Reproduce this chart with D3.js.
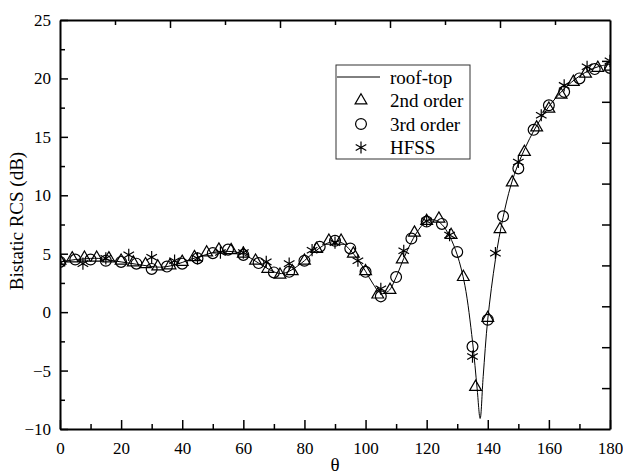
<!DOCTYPE html>
<html>
<head>
<meta charset="utf-8">
<script src="https://cdn.jsdelivr.net/npm/d3@7"></script>
<style>
  body { margin: 0; background: #fff; }
  svg text { font-family: "Liberation Serif", "Times New Roman", serif; fill: #000; }
</style>
</head>
<body>
<svg id="chart" width="623" height="474"></svg>
<script>
// roof-top (solid line)
var roofTheta = [0, 2.5, 5, 7.5, 10, 12.5, 15, 17.5, 20, 22.5, 25, 27.5, 30, 32.5, 35, 37.5, 40, 42.5, 45, 47.5,
  50, 52.5, 55, 57.5, 60, 62.5, 65, 67.5, 70, 72.5, 75, 77.5, 80, 82.5, 85, 87.5, 90, 92.5, 95, 97.5,
  100, 102.5, 105, 107.5, 110, 112.5, 115, 117.5, 120, 122.5, 125, 127.5, 130, 132.5, 135, 136.5, 137.5, 138.5,
  140, 142.5, 145, 147.5, 150, 152.5, 155, 157.5, 160, 162.5, 165, 167.5, 170, 172.5, 175, 177.5, 180];
var roofRcs = [4.3, 4.4, 4.5, 4.55, 4.6, 4.6, 4.5, 4.4, 4.3, 4.2, 4.1, 4.0, 3.9, 3.85, 3.9, 4.05, 4.25, 4.5, 4.7, 4.9,
  5.1, 5.2, 5.2, 5.15, 4.95, 4.6, 4.2, 3.8, 3.45, 3.3, 3.5, 3.9, 4.4, 5.0, 5.5, 5.9, 6.05, 5.9, 5.3, 4.5,
  3.5, 2.4, 1.6, 1.8, 3.0, 4.6, 6.0, 7.1, 7.8, 7.9, 7.5, 6.5, 4.9, 2.3, -2.5, -6.5, -9.1, -5.5,
  -0.6, 4.5, 8.1, 10.8, 12.7, 14.2, 15.5, 16.6, 17.6, 18.4, 19.1, 19.7, 20.2, 20.6, 20.9, 21.1, 21.2];

// 2nd order (triangles), every 4 deg
var secondTheta = d3.range(0, 181, 4);
var secondRcs = [4.4, 4.6, 4.65, 4.65, 4.6, 4.4, 4.25, 4.1, 3.9, 4.0, 4.3, 4.7, 5.1, 5.35, 5.3, 5.0, 4.4, 3.7, 3.2, 3.5,
  4.4, 5.4, 6.1, 6.1, 5.0, 3.5, 1.5, 1.9, 4.5, 6.8, 7.8, 8.0, 6.6, 3.0, -6.4, -0.5, 7.1, 11.1, 13.7, 15.8,
  17.4, 18.6, 19.7, 20.4, 20.9, 21.0];

// 3rd order (circles), every 5 deg
var thirdTheta = d3.range(0, 181, 5);
var thirdRcs = [4.3, 4.5, 4.5, 4.4, 4.3, 4.15, 3.7, 3.9, 4.15, 4.6, 5.05, 5.35, 4.9, 4.2, 3.4, 3.45, 4.4, 5.6, 6.1, 5.45,
  3.45, 1.35, 3.0, 6.3, 7.75, 7.55, 5.15, -2.95, -0.65, 8.2, 12.3, 15.6, 17.7, 18.85, 20.0, 20.8, 20.9];

// HFSS (asterisks), every 7.5 deg
var hfssTheta = d3.range(0, 181, 7.5);
var hfssRcs = [4.2, 4.15, 4.6, 4.9, 4.7, 4.4, 4.6, 5.1, 5.1, 4.3, 4.15, 5.3, 5.95, 4.4, 2.0, 5.25, 7.8, 6.6, -3.8, 5.05,
  12.85, 16.85, 19.4, 21.0, 21.5];

var legendLabels = ["roof-top", "2nd order", "3rd order", "HFSS"];

var svg = d3.select("#chart"),
    margin = {top: 20, right: 13, bottom: 45, left: 60},
    width = +svg.attr("width"),
    height = +svg.attr("height");

var x = d3.scaleLinear().domain([0, 180]).range([margin.left, width - margin.right]);
var y = d3.scaleLinear().domain([-10, 25]).range([height - margin.bottom, margin.top]);

function zip(xs, ys) {
  return xs.map(function(t, i) { return {t: t, v: ys[i]}; });
}

svg.append("clipPath").attr("id", "plotclip")
  .append("rect")
    .attr("x", x(0)).attr("y", y(25))
    .attr("width", x(180) - x(0)).attr("height", y(-10) - y(25));

var plot = svg.append("g").attr("clip-path", "url(#plotclip)");

// solid line
var line = d3.line()
    .x(function(d) { return x(d.t); })
    .y(function(d) { return y(d.v); })
    .curve(d3.curveCatmullRom);

plot.append("path")
    .datum(zip(roofTheta, roofRcs))
    .attr("fill", "none")
    .attr("stroke", "#000")
    .attr("stroke-width", 1)
    .attr("d", line);

var triSym = d3.symbol().type(d3.symbolTriangle).size(60);
var cirSym = d3.symbol().type(d3.symbolCircle).size(92);
var astSym = d3.symbol().type(d3.symbolAsterisk).size(105);

function drawMarkers(data, sym) {
  plot.append("g")
    .selectAll("path")
    .data(data)
    .enter().append("path")
      .attr("transform", function(d) { return "translate(" + x(d.t) + "," + y(d.v) + ")"; })
      .attr("d", sym)
      .attr("fill", "none")
      .attr("stroke", "#000")
      .attr("stroke-width", 1.2);
}

drawMarkers(zip(secondTheta, secondRcs), triSym);
drawMarkers(zip(thirdTheta, thirdRcs), cirSym);
drawMarkers(zip(hfssTheta, hfssRcs), astSym);

// axes
function styleAxis(g) {
  g.select(".domain").attr("stroke-width", 2);
  g.selectAll(".tick line").attr("stroke-width", 1.5);
  g.selectAll(".tick text").style("font-size", "17px").style("font-family", "Liberation Serif");
}

var xMajor = d3.range(0, 181, 20), xMinor = d3.range(10, 180, 20);
var yMajor = d3.range(-10, 26, 5), yMinor = d3.range(-7.5, 25, 5);

// bottom
svg.append("g")
    .attr("transform", "translate(0," + y(-10) + ")")
    .call(d3.axisBottom(x).tickValues(xMinor).tickSize(-5).tickFormat(""))
    .call(function(g) { g.select(".domain").remove(); g.selectAll("line").attr("stroke-width", 1.5); });
svg.append("g")
    .attr("transform", "translate(0," + y(-10) + ")")
    .call(d3.axisBottom(x).tickValues(xMajor).tickSizeInner(-9).tickSizeOuter(0).tickPadding(13))
    .call(styleAxis);

// left
svg.append("g")
    .attr("transform", "translate(" + x(0) + ",0)")
    .call(d3.axisLeft(y).tickValues(yMinor).tickSize(-5).tickFormat(""))
    .call(function(g) { g.select(".domain").remove(); g.selectAll("line").attr("stroke-width", 1.5); });
svg.append("g")
    .attr("transform", "translate(" + x(0) + ",0)")
    .call(d3.axisLeft(y).tickValues(yMajor).tickSizeInner(-8).tickSizeOuter(0).tickPadding(9))
    .call(styleAxis);

// top: no labels, major every 36, minor every 18
svg.append("g")
    .attr("transform", "translate(0," + y(25) + ")")
    .call(d3.axisTop(x).tickValues(d3.range(18, 180, 36)).tickSize(-5).tickFormat(""))
    .call(function(g) { g.select(".domain").remove(); g.selectAll("line").attr("stroke-width", 1.5); });
svg.append("g")
    .attr("transform", "translate(0," + y(25) + ")")
    .call(d3.axisTop(x).tickValues(d3.range(36, 180, 36)).tickSizeInner(-8).tickSizeOuter(0).tickFormat(""))
    .call(styleAxis);

// right: no labels, every 3.5
svg.append("g")
    .attr("transform", "translate(" + x(180) + ",0)")
    .call(d3.axisRight(y).tickValues(d3.range(-6.5, 25, 3.5)).tickSizeInner(-8).tickSizeOuter(0).tickFormat(""))
    .call(styleAxis);

// axis titles
svg.append("text")
    .attr("x", (x(0) + x(180)) / 2)
    .attr("y", 471)
    .attr("text-anchor", "middle")
    .style("font-size", "19px")
    .text("\u03b8");

svg.append("text")
    .attr("transform", "translate(23," + 221 + ") rotate(-90)")
    .attr("text-anchor", "middle")
    .style("font-size", "19px")
    .text("Bistatic RCS (dB)");

// legend
var lg = svg.append("g").attr("transform", "translate(336,65)");
lg.append("rect")
    .attr("width", 134).attr("height", 94)
    .attr("fill", "#fff")
    .attr("stroke", "#333")
    .attr("stroke-width", 1);

var legendSyms = [null, triSym, cirSym, astSym];
legendLabels.forEach(function(label, i) {
  var ly = 12 + i * 23.5;
  if (i === 0) {
    lg.append("line")
        .attr("x1", 1).attr("x2", 44)
        .attr("y1", ly).attr("y2", ly)
        .attr("stroke", "#000").attr("stroke-width", 1);
  } else {
    lg.append("path")
        .attr("transform", "translate(25," + ly + ")")
        .attr("d", legendSyms[i])
        .attr("fill", "none")
        .attr("stroke", "#000")
        .attr("stroke-width", 1.2);
  }
  lg.append("text")
      .attr("x", 54).attr("y", ly)
      .attr("dy", "0.35em")
      .style("font-size", "19px")
      .text(label);
});
</script>
</body>
</html>
